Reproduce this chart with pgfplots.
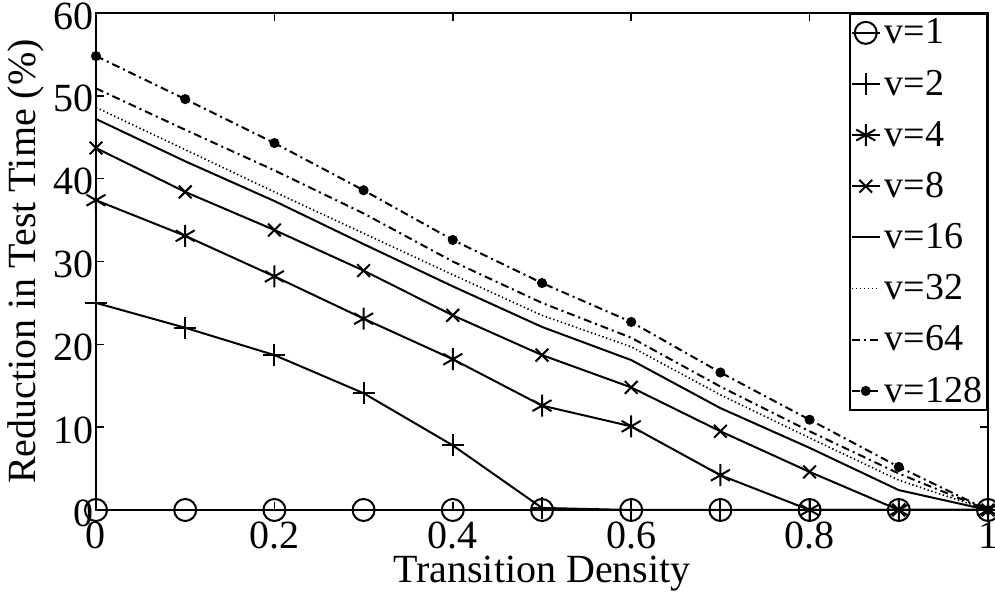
\documentclass[border=0pt]{standalone}
\usepackage{fontspec}
\setmainfont{Liberation Serif}
\usepackage{pgfplots}
\pgfplotsset{compat=1.18}

\pgfplotstableset{col sep=space}
% x = transition density, one column per v
\pgfplotstableread{
x    v1  v2   v4   v8   v16  v32  v64  v128
0.0  0   25.0 37.4 43.7 47.2 48.6 50.9 54.8
0.1  0   22.0 33.1 38.4 42.1 43.5 45.9 49.6
0.2  0   18.7 28.2 33.8 37.3 38.4 41.0 44.3
0.3  0   14.1 23.1 28.9 32.1 33.4 35.8 38.6
0.4  0   7.8  18.2 23.5 27.0 28.4 30.0 32.6
0.5  0   0.25 12.6 18.7 22.1 23.5 25.0 27.4
0.6  0   0    10.1 14.8 18.1 19.7 20.8 22.7
0.7  0   0    4.2  9.5  12.3 13.9 14.9 16.6
0.8  0   0    0    4.6  7.5  8.7  9.5  10.9
0.9  0   0    0    0    2.4  3.6  4.4  5.2
1.0  0   0    0    0    0    0    0    0
}\datatable

\begin{document}
\begin{tikzpicture}
\begin{axis}[
  scale only axis,
  width=446pt, height=248.5pt,
  xmin=0, xmax=1, ymin=0, ymax=60,
  xtick={0,0.2,0.4,0.6,0.8,1},
  xticklabels={0,0.2,0.4,0.6,0.8,1},
  ytick={0,10,20,30,40,50,60},
  yticklabels={0,10,20,30,40,50,60},
  tick align=inside, xtick pos=both, ytick pos=both,
  major tick length=4pt,
  axis line style={line width=1pt},
  every tick/.style={black, line width=0.8pt},
  ticklabel style={font=\fontsize{20}{20}\selectfont},
  xticklabel style={inner sep=1pt, yshift=-5pt},
  yticklabel style={inner sep=1pt, yshift=-1.5pt},
  xlabel={Transition Density},
  ylabel={Reduction in Test Time (\%)},
  label style={font=\fontsize{20}{22}\selectfont},
  xlabel style={at={(axis description cs:0.5,-0.145)}, anchor=base},
  ylabel style={at={(axis description cs:-0.0785,0.5)}, anchor=center},
  legend style={at={(1,1)}, anchor=north east, draw=black, line width=0.8pt,
    font=\fontsize{19}{19}\selectfont, inner sep=0.5pt,
    row sep=7.5pt, cells={anchor=west}},
  legend cell align=left,
  legend image code/.code={%
    \draw[mark repeat=2, mark phase=2, #1]
      plot coordinates {(0pt,0pt) (7pt,0pt) (14pt,0pt)};},
  every axis plot/.append style={black, line width=1pt},
]
\addplot[mark=o, mark size=5.5pt] table[x=x, y=v1] {\datatable};
\addplot[mark=+, mark size=5.5pt] table[x=x, y=v2] {\datatable};
\addplot[mark=asterisk, mark size=5.5pt] table[x=x, y=v4] {\datatable};
\addplot[mark=x, mark size=4.5pt] table[x=x, y=v8] {\datatable};
\addplot[mark=none] table[x=x, y=v16] {\datatable};
\addplot[mark=none, line width=0.8pt, dash pattern=on 0.7pt off 1.3pt] table[x=x, y=v32] {\datatable};
\addplot[mark=none, dash pattern=on 4pt off 2pt on 1pt off 2pt] table[x=x, y=v64] {\datatable};
\addplot[mark=*, mark size=2pt, mark options={solid}, dash pattern=on 4pt off 2pt on 1pt off 2pt] table[x=x, y=v128] {\datatable};
\legend{v=1, v=2, v=4, v=8, v=16, v=32, v=64, v=128}
\end{axis}
\pgfresetboundingbox
\useasboundingbox ([xshift=-48pt, yshift=-43.5pt]current axis.south west)
  rectangle ([xshift=3.5pt, yshift=6.5pt]current axis.north east);
\end{tikzpicture}
\end{document}
